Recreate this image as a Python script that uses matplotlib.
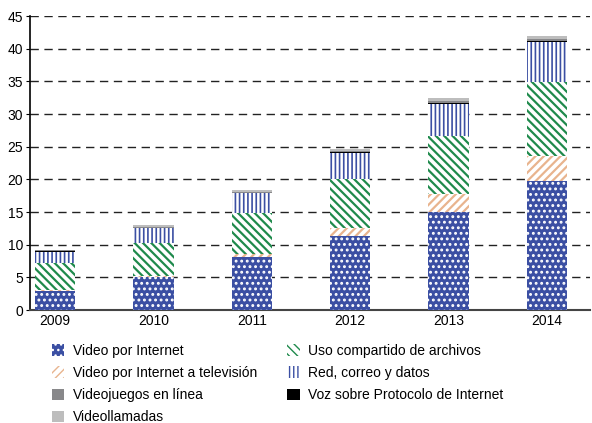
import matplotlib.pyplot as plt
import numpy as np

plt.rcParams['font.family'] = ['Liberation Sans', 'DejaVu Sans']

years = ['2009', '2010', '2011', '2012', '2013', '2014']

# segment sizes (stacked)
video_internet = [2.95, 5.05, 8.05, 11.35, 15.0, 19.7]
video_tv = [0.15, 0.2, 0.6, 1.25, 2.7, 3.95]
compartido = [4.05, 5.05, 6.15, 7.45, 9.0, 11.2]
red_correo = [1.75, 2.25, 3.05, 4.05, 4.9, 6.2]
voip = [0.2, 0.05, 0.05, 0.05, 0.1, 0.1]
videojuegos = [0.05, 0.1, 0.1, 0.15, 0.25, 0.35]
videollamadas = [0.1, 0.3, 0.35, 0.35, 0.5, 0.5]

blue = '#3b4fa3'

fig = plt.figure(figsize=(5.92, 4.23), dpi=100)
ax = fig.add_axes([0.051, 0.267, 0.946, 0.695])

x = np.arange(len(years))
w = 0.41
bottom = np.zeros(len(years))

series = [
    ('Video por Internet', video_internet, 1.3, dict(color=blue, edgecolor='white', hatch='...')),
    ('Video por Internet a televisión', video_tv, 1.6, dict(color='white', edgecolor='#e8b48e', hatch='////')),
    ('Uso compartido de archivos', compartido, 1.6, dict(color='white', edgecolor='#1f8a4c', hatch='\\\\\\\\')),
    ('Red, correo y datos', red_correo, 1.2, dict(color='white', edgecolor=blue, hatch='||||')),
    ('Voz sobre Protocolo de Internet', voip, 1.0, dict(color='black', edgecolor='black')),
    ('Videojuegos en línea', videojuegos, 1.0, dict(color='#88888a', edgecolor='#88888a')),
    ('Videollamadas', videollamadas, 1.0, dict(color='#bdbdbd', edgecolor='#bdbdbd')),
]

handles = {}
for name, vals, hlw, style in series:
    with plt.rc_context({'hatch.linewidth': hlw}):
        bars = ax.bar(x, vals, w, bottom=bottom, linewidth=0, label=name, zorder=3, **style)
    handles[name] = bars
    bottom += np.array(vals)

ax.set_ylim(0, 45)
ax.set_xlim(-0.254, 5.44)
ax.set_yticks(range(0, 46, 5))
ax.set_xticks(x)
ax.set_xticklabels(years)
ax.yaxis.grid(True, linestyle=(0, (6, 4)), color='#222222', linewidth=1.0, zorder=0)
ax.tick_params(axis='y', length=3, labelsize=10, pad=2)
ax.tick_params(axis='x', length=0, labelsize=10, pad=3)
for s in ['top', 'right']:
    ax.spines[s].set_visible(False)
ax.spines['left'].set_linewidth(1.2)
ax.spines['bottom'].set_linewidth(1.5)
ax.spines['bottom'].set_color('#444444')

order = ['Video por Internet', 'Video por Internet a televisión', 'Videojuegos en línea',
         'Videollamadas', 'Uso compartido de archivos', 'Red, correo y datos',
         'Voz sobre Protocolo de Internet']
fig.legend([handles[n] for n in order], order, ncol=2, frameon=False,
           loc='upper left', bbox_to_anchor=(0.078, 0.2), fontsize=10,
           handlelength=0.9, handleheight=0.9, handletextpad=0.6,
           labelspacing=0.58, columnspacing=2.2, borderaxespad=0)

fig.savefig('out.png', dpi=100)
